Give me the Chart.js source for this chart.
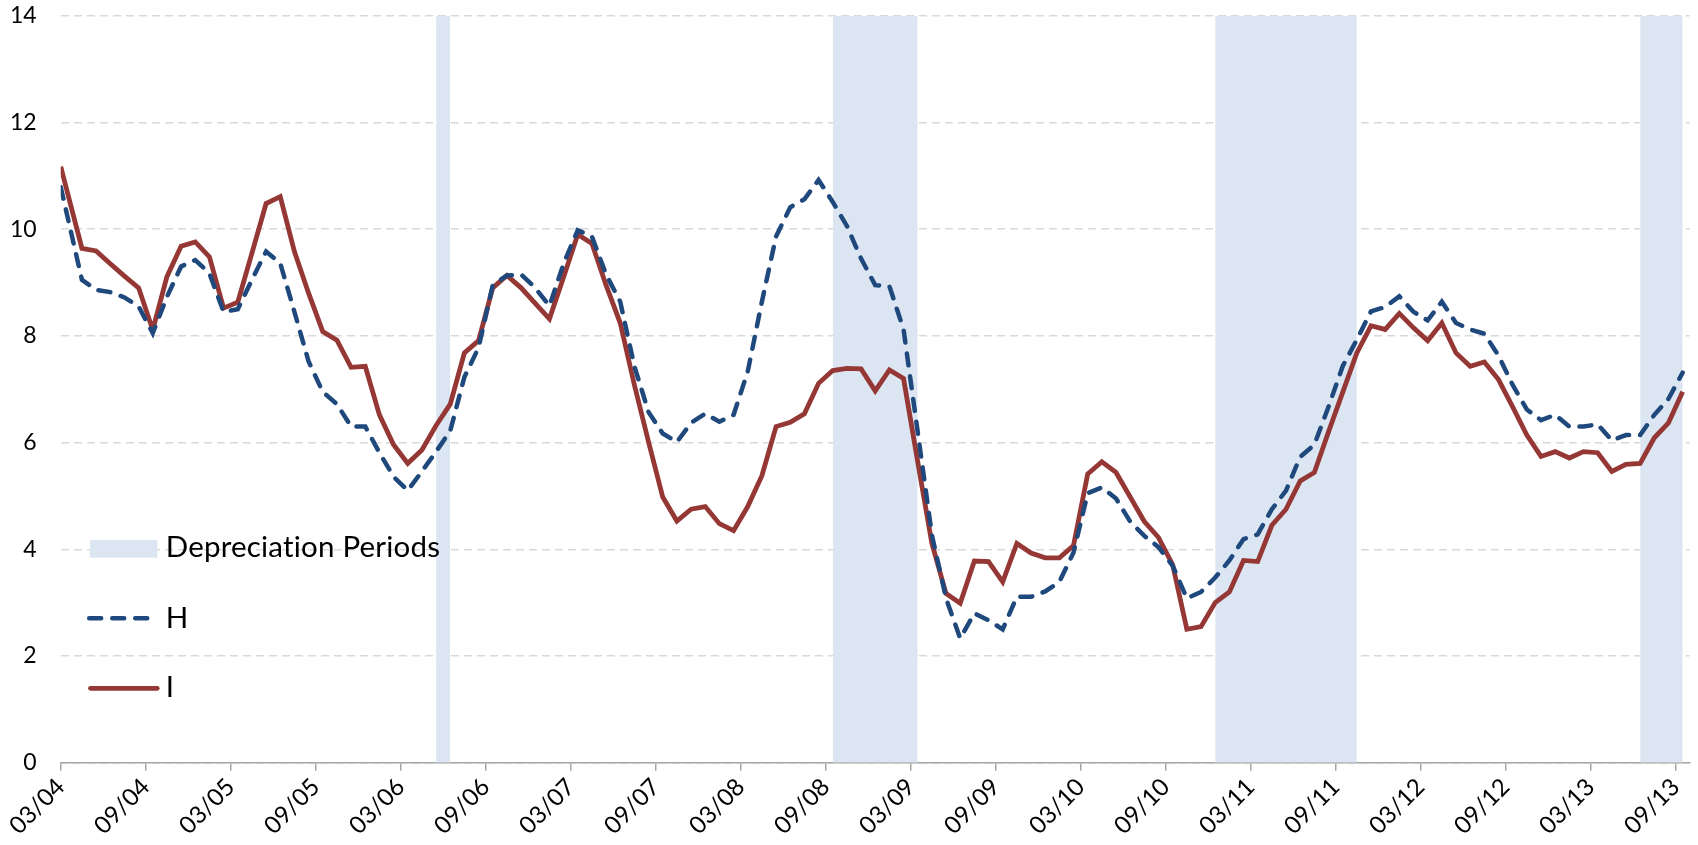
<!DOCTYPE html>
<html>
<head>
<meta charset="utf-8">
<title>H and I with depreciation periods</title>
<script src="https://cdn.jsdelivr.net/npm/chart.js@4.4.1/dist/chart.umd.min.js"></script>
<style>
  html, body { margin: 0; padding: 0; background: #fff; }
  #chart { display: block; }
</style>
</head>
<body>
<canvas id="chart" width="1698" height="845"></canvas>
<script>
// x runs in months counted from 03/04
const tickLabels = ['03/04', '09/04', '03/05', '09/05', '03/06', '09/06', '03/07', '09/07', '03/08', '09/08',
                    '03/09', '09/09', '03/10', '09/10', '03/11', '09/11', '03/12', '09/12', '03/13', '09/13'];

const hValues = [10.79, 9.05, 8.86, 8.82, 8.72, 8.55, 8.05, 8.73, 9.30, 9.42,
                 9.17, 8.45, 8.50, 9.05, 9.58, 9.36, 8.45, 7.52, 6.95, 6.72,
                 6.30, 6.30, 5.81, 5.36, 5.10, 5.46, 5.83, 6.22, 7.23, 7.78,
                 8.95, 9.13, 9.15, 8.90, 8.56, 9.35, 9.98, 9.86, 9.15, 8.64,
                 7.43, 6.57, 6.17, 6.01, 6.37, 6.54, 6.39, 6.52, 7.33, 8.64,
                 9.86, 10.41, 10.56, 10.92, 10.51, 10.06, 9.45, 8.95, 8.93, 8.12,
                 6.20, 4.27, 3.08, 2.33, 2.80, 2.67, 2.50, 3.11, 3.11, 3.21,
                 3.39, 3.94, 5.05, 5.16, 4.95, 4.52, 4.25, 4.04, 3.69, 3.08,
                 3.20, 3.47, 3.79, 4.19, 4.28, 4.75, 5.10, 5.73, 5.96, 6.67,
                 7.43, 7.93, 8.46, 8.54, 8.74, 8.45, 8.29, 8.64, 8.24, 8.12,
                 8.04, 7.63, 7.08, 6.62, 6.42, 6.52, 6.30, 6.30, 6.34, 6.04,
                 6.14, 6.14, 6.52, 6.82, 7.31];

const iValues = [11.17, 9.64, 9.59, 9.35, 9.12, 8.90, 8.11, 9.11, 9.68, 9.76,
                 9.48, 8.52, 8.63, 9.55, 10.48, 10.61, 9.58, 8.80, 8.08, 7.92,
                 7.41, 7.43, 6.52, 5.96, 5.61, 5.86, 6.32, 6.72, 7.68, 7.91,
                 8.90, 9.13, 8.90, 8.61, 8.32, 9.10, 9.90, 9.73, 8.95, 8.24,
                 7.08, 6.01, 4.98, 4.53, 4.75, 4.80, 4.48, 4.35, 4.80, 5.38,
                 6.30, 6.38, 6.54, 7.11, 7.35, 7.39, 7.38, 6.97, 7.36, 7.20,
                 5.64, 4.11, 3.17, 2.99, 3.78, 3.77, 3.39, 4.11, 3.93, 3.84,
                 3.84, 4.07, 5.41, 5.64, 5.44, 4.98, 4.52, 4.22, 3.71, 2.50,
                 2.55, 3.00, 3.20, 3.79, 3.77, 4.45, 4.75, 5.28, 5.44, 6.20,
                 6.94, 7.68, 8.19, 8.12, 8.42, 8.15, 7.91, 8.24, 7.68, 7.43,
                 7.51, 7.18, 6.67, 6.14, 5.74, 5.83, 5.71, 5.83, 5.81, 5.46,
                 5.59, 5.61, 6.09, 6.37, 6.95];

// shaded depreciation periods (start / end, in months from 03/04)
const depStart = [26.5, 54.5, 81.5, 111.5];
const depEnd   = [27.5, 60.5, 91.5, 114.5];

const Y_MAX = 14;
const BAND = '#DCE6F2';
const BLUE = '#1F497D';
const RED = '#953735';
const FONT = 'Lato';

// first reading sits on the 03/04 tick, the rest fall mid-month
const monthPos = hValues.map((v, i) => (i === 0 ? 0 : i + 0.5));
const tickMonths = tickLabels.map((t, i) => i * 6);

const toPoints = vals => vals.map((v, i) => ({ x: monthPos[i], y: v }));

const bandSets = depStart.map((s, k) => ({
    label: 'Depreciation Periods',
    data: [{ x: s, y: Y_MAX }, { x: depEnd[k], y: Y_MAX }],
    fill: 'origin',
    backgroundColor: BAND,
    borderWidth: 0,
    pointRadius: 0,
    order: 3
}));

// legend sits inside the plot, bottom left
const insideLegend = {
    id: 'insideLegend',
    afterDraw(chart) {
        const { ctx, chartArea } = chart;
        const left = chartArea.left;
        const bottom = chartArea.bottom;
        ctx.save();

        ctx.fillStyle = BAND;
        ctx.fillRect(left + 29.3, bottom - 222.7, 67.4, 17.7);

        ctx.strokeStyle = BLUE;
        ctx.lineWidth = 4.5;
        ctx.lineCap = 'round';
        ctx.setLineDash([12, 11]);
        ctx.beginPath();
        ctx.moveTo(left + 28.5, bottom - 144.4);
        ctx.lineTo(left + 88, bottom - 144.4);
        ctx.stroke();

        ctx.strokeStyle = RED;
        ctx.lineWidth = 4.8;
        ctx.setLineDash([]);
        ctx.beginPath();
        ctx.moveTo(left + 29.8, bottom - 74.4);
        ctx.lineTo(left + 96.5, bottom - 74.4);
        ctx.stroke();

        ctx.fillStyle = '#000';
        ctx.font = '29.5px ' + FONT;
        ctx.letterSpacing = '0.2px';   // also keeps Lato from joining "ti"
        ctx.textBaseline = 'alphabetic';
        ctx.textAlign = 'left';
        ctx.fillText('Depreciation Periods', left + 105, bottom - 205.4);
        ctx.fillText('H', left + 105, bottom - 134.4);
        ctx.fillText('I', left + 105, bottom - 65.4);
        ctx.restore();
    }
};

new Chart(document.getElementById('chart'), {
    type: 'line',
    data: {
        datasets: [
            {
                label: 'H',
                data: toPoints(hValues),
                borderColor: BLUE,
                borderWidth: 4.5,
                borderDash: [12, 11],
                borderCapStyle: 'round',
                pointRadius: 0,
                fill: false,
                tension: 0,
                order: 1
            },
            {
                label: 'I',
                data: toPoints(iValues),
                borderColor: RED,
                borderWidth: 4.8,
                pointRadius: 0,
                fill: false,
                tension: 0,
                order: 2
            },
            ...bandSets
        ]
    },
    options: {
        responsive: false,
        animation: false,
        devicePixelRatio: 1,
        layout: { padding: { top: 15.7, right: 8, bottom: 0, left: 0 } },
        plugins: {
            legend: { display: false },
            tooltip: { enabled: false },
            title: { display: false }
        },
        scales: {
            x: {
                type: 'linear',
                min: 0,
                max: 115,
                afterBuildTicks: scale => {
                    scale.ticks = tickMonths.map(v => ({ value: v }));
                },
                afterFit: scale => { scale.height = 82.3; },
                grid: {
                    drawOnChartArea: false,
                    drawTicks: true,
                    tickLength: 8,
                    color: '#A6A6A6',
                    lineWidth: 1.5
                },
                border: { display: true, color: '#A6A6A6', width: 1.5 },
                ticks: {
                    autoSkip: false,
                    maxRotation: 45,
                    minRotation: 45,
                    padding: 2,
                    color: '#000',
                    font: { family: FONT, size: 24 },
                    callback: v => tickLabels[tickMonths.indexOf(v)]
                }
            },
            y: {
                min: 0,
                max: Y_MAX,
                afterFit: scale => {
                    scale.width = 60.7;
                    // tick padding would otherwise push the plot top down
                    scale.paddingTop = 0;
                    scale.paddingBottom = 0;
                },
                grid: {
                    drawTicks: false,
                    color: '#D9D9D9',
                    lineWidth: 1.5
                },
                border: { display: false, dash: [8, 5] },
                ticks: {
                    stepSize: 2,
                    padding: 24,
                    color: '#000',
                    font: { family: FONT, size: 23 }
                }
            }
        }
    },
    plugins: [insideLegend]
});
</script>
</body>
</html>
